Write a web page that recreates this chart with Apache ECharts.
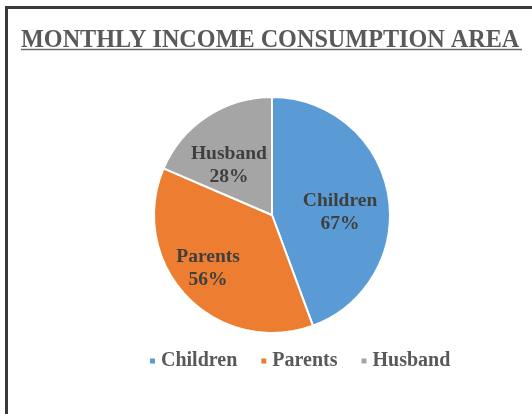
<!DOCTYPE html>
<html>
<head>
<meta charset="utf-8">
<script src="https://cdn.jsdelivr.net/npm/echarts@6/dist/echarts.min.js"></script>
<style>
  html, body { margin: 0; padding: 0; background: #ffffff; overflow: hidden; }
  #chart { position: absolute; left: 0; top: 0; width: 532px; height: 414px; }
</style>
</head>
<body>
<div id="chart"></div>
<script>
// Monthly income consumption shares (percent of respondents)
const categories = ['Children', 'Parents', 'Husband'];
const values = [67, 56, 28];
const colors = ['#5b9bd5', '#ed7d31', '#a5a5a5'];

// small nudges for the in-slice labels
const labelNudge = [[7, 8], [-19, 11], [-9, 2]];

const chart = echarts.init(document.getElementById('chart'), null, { renderer: 'canvas' });

chart.setOption({
  backgroundColor: '#ffffff',
  animation: false,
  title: {
    text: 'MONTHLY INCOME CONSUMPTION AREA',
    left: 16,
    top: 24,
    textStyle: {
      fontFamily: 'Liberation Serif',
      fontWeight: 'bold',
      fontSize: 24.2,
      color: '#595959'
    }
  },
  graphic: [
    // chart frame (left and top edges)
    { type: 'line', shape: { x1: 6.5, y1: 7, x2: 6.5, y2: 414 }, style: { stroke: '#3a3a3a', lineWidth: 3 } },
    { type: 'line', shape: { x1: 5, y1: 7.5, x2: 532, y2: 7.5 }, style: { stroke: '#3a3a3a', lineWidth: 3 } },
    // title underline
    { type: 'line', shape: { x1: 21, y1: 49.5, x2: 522, y2: 49.5 }, style: { stroke: '#6b6b6b', lineWidth: 1.5 } }
  ],
  legend: {
    data: categories,
    top: 346,
    left: 143,
    itemWidth: 7,
    itemHeight: 7,
    itemGap: 22,
    icon: 'rect',
    textStyle: {
      fontFamily: 'Liberation Serif',
      fontWeight: 'bold',
      fontSize: 20,
      color: '#595959'
    }
  },
  series: [{
    type: 'pie',
    center: [272, 215],
    radius: 118,
    startAngle: 90,
    clockwise: true,
    itemStyle: { borderColor: '#ffffff', borderWidth: 2 },
    label: {
      show: true,
      position: 'inside',
      formatter: p => p.name + '\n' + p.value + '%',
      fontFamily: 'Liberation Serif',
      fontWeight: 'bold',
      fontSize: 19.5,
      lineHeight: 23,
      color: '#3f3f3f'
    },
    labelLine: { show: false },
    labelLayout: p => ({ dx: labelNudge[p.dataIndex][0], dy: labelNudge[p.dataIndex][1] }),
    emphasis: { disabled: true },
    data: categories.map((c, i) => ({ name: c, value: values[i], itemStyle: { color: colors[i] } }))
  }]
});
</script>
</body>
</html>
